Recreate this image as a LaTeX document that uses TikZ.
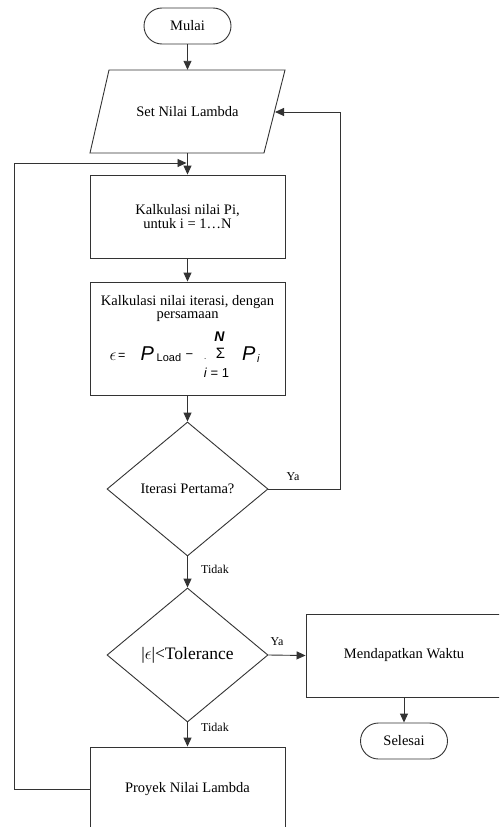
\documentclass[tikz,border=0pt]{standalone}
\usepackage{fontspec}
\setmainfont{Liberation Serif}
\newfontfamily\arialf{Liberation Sans}
\usetikzlibrary{shapes.geometric,shapes.misc,arrows.meta}
\begin{document}
\begin{tikzpicture}[x=1pt,y=-1pt,
  line/.style={draw=black!80,line width=0.9pt},
  arr/.style={line,-{Triangle[length=9pt,width=8pt]}},
  txt/.style={font=\fontsize{14.5}{15}\selectfont},
  term/.style={line,rounded rectangle,minimum width=87,minimum height=36,inner sep=0pt,txt},
  box/.style={line,rectangle,minimum width=195,align=center,txt},
  dia/.style={line,diamond,shape aspect=1.2,inner sep=0pt,minimum width=161,minimum height=134},
  lbl/.style={font=\fontsize{12}{12}\selectfont,inner sep=0pt},
  fm/.style={anchor=base west,inner sep=0pt}
]
\useasboundingbox (0,0) rectangle (499,827);
\clip (0,0) rectangle (499,827);
\fill[white] (0,0) rectangle (499,827);

% start
\node[term] (mulai) at (187.5,26) {Mulai};

% input parallelogram
\draw[line] (90,153) -- (109,70) -- (285,70) -- (264,153) -- cycle;
\node[minimum width=175,minimum height=83,inner sep=0pt,txt] (set) at (187.5,111.5) {Set Nilai Lambda};
\coordinate (setR) at (275,112);
\coordinate (join) at (186.5,163);

% process boxes
\node[box,minimum height=83] (p1) at (187.5,216.5) {Kalkulasi nilai Pi,\\[-1pt]untuk i = 1…N};
\node[box,minimum height=113] (p2) at (187.5,338.5) {};
\node[txt,inner sep=0pt] (p2a) at (187.5,302) {Kalkulasi nilai iterasi, dengan};
\node[txt,inner sep=0pt] (p2b) at (187.5,316.5) {persamaan};

% formula
\node[fm] (feps) at (109.5,360) {\fontsize{16}{16}\selectfont$\epsilon$};
\node[fm] (feq) at (118,359) {\arialf\fontsize{12.5}{12}\selectfont =};
\node[fm] (fP) at (140.5,360) {\arialf\itshape\fontsize{20}{20}\selectfont P};
\node[fm] (fload) at (156.5,361) {\arialf\fontsize{11}{11}\selectfont Load};
\node[inner sep=0pt] (fminus) at (189.5,356) {\arialf\fontsize{13}{13}\selectfont −};
\node[fm] (fdot) at (204,359.5) {\arialf\fontsize{8}{8}\selectfont .};
\node[inner sep=0pt] (fsig) at (220.5,353.5) {\arialf\fontsize{15}{15}\selectfont Σ};
\node[inner sep=0pt] (fN) at (219.5,337) {\arialf\bfseries\itshape\fontsize{14}{14}\selectfont N};
\node[inner sep=0pt] (fi1) at (216.5,373) {\arialf\fontsize{13}{13}\selectfont\textit{i} = 1};
\node[fm] (fPi) at (242,360) {\arialf\itshape\fontsize{20}{20}\selectfont P};
\node[fm] (fsubi) at (257,362.5) {\arialf\itshape\fontsize{11}{11}\selectfont i};

% decisions
\node[dia,txt] (d1) at (187.5,489) {Iterasi Pertama?};
\node[dia] (d2) at (187.5,655) {\fontsize{17.5}{18}\selectfont |$\epsilon$|<Tolerance};

% right branch
\node[box,minimum width=196,minimum height=83] (mw) at (404,655.5) {Mendapatkan Waktu};
\node[term] (sel) at (404,741) {Selesai};

% bottom box
\node[box,minimum height=84] (pl) at (187.5,789) {Proyek Nilai Lambda};

% connectors
\draw[arr] (mulai.south) -- (set.north);
\draw[arr] (set.south) -- (p1.north);
\draw[arr] (p1.south) -- (p2.north);
\draw[arr] (p2.south) -- (d1.north);
\draw[arr] (d1.east) -- ++(72,0) |- (setR);
\draw[arr] (d1.south) -- (d2.north);
\draw[arr] (d2.east) -- (mw.west);
\draw[arr] (mw.south) -- (sel.north);
\draw[arr] (d2.south) -- (pl.north);
\draw[arr] (pl.west) -- ++(-75.5,0) |- (join);

% labels
\node[lbl] (ya1) at (293,477) {Ya};
\node[lbl] (tidak1) at (215,569) {Tidak};
\node[lbl] (ya2) at (277,642) {Ya};
\node[lbl] (tidak2) at (215,727) {Tidak};
\end{tikzpicture}
\end{document}
